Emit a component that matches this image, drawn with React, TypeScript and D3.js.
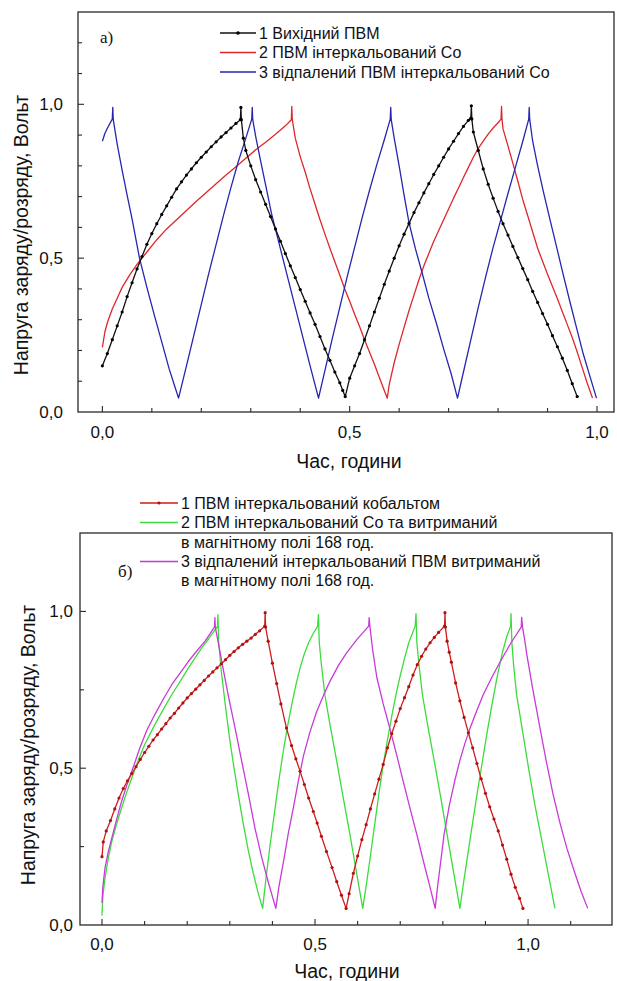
import React from "react";
import * as d3 from "d3";

type Pt = [number, number];

// ---------- Panel a) data (time, hours ; voltage, V) ----------
const topBlack: Pt[] = [
  [0, 0.15], [0.01, 0.19], [0.02, 0.235], [0.03, 0.28], [0.04, 0.325], [0.05, 0.375], [0.06, 0.42], [0.07, 0.465],
  [0.08, 0.505], [0.09, 0.545], [0.1, 0.58], [0.11, 0.612], [0.12, 0.642], [0.13, 0.67], [0.14, 0.698], [0.15, 0.725],
  [0.16, 0.748], [0.17, 0.77], [0.18, 0.79], [0.19, 0.81], [0.2, 0.828], [0.21, 0.845], [0.22, 0.862], [0.23, 0.878],
  [0.24, 0.894], [0.25, 0.908], [0.26, 0.923], [0.27, 0.938], [0.279, 0.95], [0.28, 0.99], [0.281, 0.95],
  [0.285, 0.89], [0.29, 0.85], [0.3, 0.8], [0.31, 0.755], [0.32, 0.715], [0.33, 0.675], [0.34, 0.635], [0.35, 0.595],
  [0.36, 0.555], [0.37, 0.515], [0.38, 0.475], [0.39, 0.437], [0.4, 0.398], [0.41, 0.36], [0.42, 0.322], [0.43, 0.285],
  [0.44, 0.245], [0.45, 0.205], [0.46, 0.168], [0.47, 0.13], [0.48, 0.095], [0.486, 0.07], [0.491, 0.05],
  [0.5, 0.11], [0.51, 0.15], [0.52, 0.19], [0.53, 0.235], [0.54, 0.28], [0.55, 0.325], [0.56, 0.37], [0.57, 0.415],
  [0.58, 0.458], [0.59, 0.5], [0.6, 0.54], [0.61, 0.578], [0.62, 0.613], [0.63, 0.648], [0.64, 0.68], [0.65, 0.712],
  [0.66, 0.742], [0.67, 0.772], [0.68, 0.8], [0.69, 0.828], [0.7, 0.855], [0.71, 0.88], [0.72, 0.905], [0.73, 0.928],
  [0.74, 0.948], [0.745, 0.955], [0.746, 0.995], [0.747, 0.952],
  [0.75, 0.91], [0.76, 0.85], [0.77, 0.79], [0.78, 0.74], [0.79, 0.695], [0.8, 0.652], [0.81, 0.612], [0.82, 0.575],
  [0.83, 0.538], [0.84, 0.502], [0.85, 0.466], [0.86, 0.43], [0.87, 0.392], [0.88, 0.356], [0.89, 0.32], [0.9, 0.285],
  [0.91, 0.248], [0.92, 0.212], [0.93, 0.175], [0.94, 0.135], [0.95, 0.092], [0.96, 0.05],
];

const topRed: Pt[] = [
  [0, 0.21], [0.005, 0.26], [0.01, 0.29], [0.02, 0.335], [0.03, 0.37], [0.04, 0.405], [0.055, 0.445], [0.07, 0.48],
  [0.09, 0.52], [0.11, 0.56], [0.13, 0.595], [0.15, 0.625], [0.17, 0.655], [0.19, 0.685], [0.21, 0.713], [0.23, 0.742],
  [0.25, 0.77], [0.27, 0.797], [0.29, 0.825], [0.31, 0.852], [0.33, 0.877], [0.35, 0.903], [0.37, 0.93], [0.382, 0.95],
  [0.383, 0.993], [0.384, 0.95],
  [0.39, 0.89], [0.4, 0.83], [0.41, 0.78], [0.42, 0.725], [0.43, 0.675], [0.44, 0.625], [0.45, 0.578], [0.46, 0.532],
  [0.47, 0.488], [0.48, 0.445], [0.49, 0.4], [0.5, 0.36], [0.51, 0.318], [0.52, 0.278], [0.53, 0.235], [0.54, 0.195],
  [0.55, 0.155], [0.56, 0.112], [0.57, 0.07], [0.576, 0.045],
  [0.58, 0.09], [0.59, 0.16], [0.6, 0.22], [0.61, 0.275], [0.62, 0.33], [0.63, 0.38], [0.64, 0.43], [0.65, 0.475],
  [0.66, 0.515], [0.67, 0.555], [0.68, 0.59], [0.69, 0.625], [0.7, 0.66], [0.71, 0.695], [0.72, 0.728], [0.73, 0.762],
  [0.74, 0.795], [0.75, 0.828], [0.76, 0.857], [0.77, 0.88], [0.78, 0.903], [0.79, 0.923], [0.8, 0.94], [0.806, 0.952],
  [0.807, 0.993], [0.808, 0.95],
  [0.81, 0.92], [0.82, 0.865], [0.83, 0.808], [0.84, 0.75], [0.85, 0.69], [0.86, 0.638], [0.87, 0.585], [0.88, 0.532],
  [0.89, 0.49], [0.9, 0.448], [0.91, 0.408], [0.92, 0.368], [0.93, 0.326], [0.94, 0.284], [0.95, 0.242], [0.96, 0.195],
  [0.97, 0.145], [0.98, 0.095], [0.991, 0.045],
];

const topBlue: Pt[] = [
  [0, 0.88], [0.005, 0.905], [0.01, 0.922], [0.015, 0.937], [0.02, 0.952], [0.021, 0.99], [0.022, 0.95],
  [0.03, 0.87], [0.04, 0.785], [0.05, 0.705], [0.06, 0.628], [0.075, 0.5], [0.09, 0.405], [0.105, 0.315], [0.12, 0.228],
  [0.135, 0.14], [0.145, 0.09], [0.154, 0.045],
  [0.17, 0.15], [0.185, 0.25], [0.2, 0.35], [0.215, 0.45], [0.23, 0.545], [0.245, 0.64], [0.26, 0.73], [0.275, 0.815],
  [0.29, 0.89], [0.302, 0.952], [0.303, 0.99], [0.304, 0.95],
  [0.31, 0.895], [0.32, 0.815], [0.33, 0.738], [0.342, 0.645], [0.36, 0.53], [0.375, 0.435], [0.39, 0.34], [0.405, 0.245],
  [0.42, 0.15], [0.437, 0.045],
  [0.45, 0.135], [0.465, 0.24], [0.48, 0.34], [0.495, 0.44], [0.51, 0.535], [0.525, 0.63], [0.54, 0.72], [0.555, 0.805],
  [0.57, 0.885], [0.582, 0.952], [0.583, 0.99], [0.584, 0.95],
  [0.59, 0.89], [0.6, 0.8], [0.61, 0.705], [0.62, 0.615], [0.633, 0.53], [0.646, 0.455], [0.66, 0.37], [0.675, 0.29],
  [0.69, 0.205], [0.705, 0.125], [0.718, 0.045],
  [0.73, 0.13], [0.745, 0.235], [0.76, 0.34], [0.775, 0.44], [0.79, 0.535], [0.805, 0.622], [0.82, 0.71], [0.835, 0.795],
  [0.85, 0.88], [0.862, 0.952], [0.863, 0.99], [0.864, 0.95],
  [0.87, 0.88], [0.88, 0.8], [0.891, 0.72], [0.905, 0.625], [0.92, 0.525], [0.932, 0.445], [0.945, 0.36], [0.96, 0.265],
  [0.972, 0.19], [0.985, 0.12], [0.999, 0.045],
];

// ---------- Panel б) data ----------
const botRed: Pt[] = [
  [0, 0.218], [0.003, 0.265], [0.01, 0.3], [0.02, 0.333], [0.03, 0.37], [0.04, 0.405], [0.05, 0.435], [0.06, 0.46],
  [0.07, 0.483], [0.08, 0.505], [0.09, 0.528], [0.1, 0.55], [0.11, 0.57], [0.12, 0.59], [0.13, 0.607], [0.14, 0.625],
  [0.15, 0.642], [0.16, 0.66], [0.17, 0.675], [0.18, 0.692], [0.19, 0.708], [0.2, 0.724], [0.21, 0.738], [0.22, 0.752],
  [0.23, 0.766], [0.24, 0.78], [0.25, 0.794], [0.26, 0.807], [0.27, 0.82], [0.28, 0.833], [0.29, 0.846], [0.3, 0.86],
  [0.31, 0.872], [0.32, 0.884], [0.33, 0.895], [0.34, 0.905], [0.35, 0.915], [0.36, 0.927], [0.37, 0.938], [0.382, 0.953],
  [0.383, 0.996], [0.384, 0.95],
  [0.39, 0.905], [0.4, 0.835], [0.41, 0.77], [0.42, 0.705], [0.433, 0.628], [0.445, 0.572], [0.455, 0.53], [0.465, 0.49],
  [0.475, 0.448], [0.485, 0.405], [0.496, 0.362], [0.505, 0.325], [0.515, 0.283], [0.527, 0.234], [0.54, 0.183],
  [0.551, 0.138], [0.562, 0.095], [0.573, 0.053],
  [0.58, 0.1], [0.59, 0.165], [0.6, 0.22], [0.61, 0.272], [0.62, 0.32], [0.63, 0.37], [0.64, 0.418], [0.65, 0.465],
  [0.66, 0.512], [0.67, 0.565], [0.68, 0.61], [0.69, 0.65], [0.7, 0.69], [0.71, 0.725], [0.72, 0.76], [0.73, 0.797],
  [0.74, 0.83], [0.75, 0.857], [0.76, 0.88], [0.77, 0.9], [0.78, 0.917], [0.79, 0.933], [0.804, 0.953], [0.805, 0.996],
  [0.806, 0.95],
  [0.81, 0.905], [0.815, 0.87], [0.82, 0.838], [0.83, 0.772], [0.84, 0.715], [0.85, 0.662], [0.86, 0.613], [0.87, 0.565],
  [0.88, 0.515], [0.89, 0.466], [0.9, 0.42], [0.91, 0.377], [0.92, 0.338], [0.93, 0.3], [0.94, 0.255], [0.95, 0.21],
  [0.96, 0.162], [0.97, 0.12], [0.98, 0.085], [0.988, 0.053],
];

const botGreen: Pt[] = [
  [0, 0.03], [0.002, 0.09], [0.007, 0.149], [0.015, 0.215], [0.023, 0.266], [0.035, 0.325], [0.046, 0.373], [0.058, 0.423],
  [0.07, 0.469], [0.085, 0.525], [0.1, 0.575], [0.124, 0.639], [0.145, 0.69], [0.164, 0.735], [0.185, 0.78], [0.203, 0.82],
  [0.22, 0.855], [0.234, 0.884], [0.25, 0.912], [0.264, 0.939], [0.271, 0.952], [0.272, 0.99],
  [0.274, 0.9], [0.28, 0.81], [0.29, 0.695], [0.3, 0.59], [0.31, 0.5], [0.32, 0.415], [0.33, 0.335], [0.343, 0.24],
  [0.355, 0.165], [0.366, 0.105], [0.377, 0.053],
  [0.385, 0.15], [0.395, 0.26], [0.405, 0.36], [0.415, 0.46], [0.425, 0.55], [0.435, 0.63], [0.445, 0.7], [0.455, 0.765],
  [0.465, 0.82], [0.475, 0.865], [0.485, 0.9], [0.495, 0.928], [0.506, 0.952], [0.508, 0.99],
  [0.51, 0.9], [0.515, 0.83], [0.523, 0.735], [0.535, 0.64], [0.551, 0.522], [0.565, 0.415], [0.582, 0.288], [0.597, 0.17],
  [0.612, 0.053],
  [0.62, 0.125], [0.63, 0.22], [0.64, 0.32], [0.65, 0.42], [0.66, 0.51], [0.67, 0.59], [0.68, 0.665], [0.69, 0.735],
  [0.7, 0.795], [0.71, 0.85], [0.72, 0.9], [0.735, 0.953], [0.737, 0.993],
  [0.739, 0.9], [0.744, 0.83], [0.752, 0.735], [0.764, 0.64], [0.78, 0.522], [0.794, 0.415], [0.81, 0.288], [0.825, 0.17],
  [0.84, 0.053],
  [0.848, 0.13], [0.856, 0.202], [0.868, 0.31], [0.88, 0.415], [0.892, 0.515], [0.903, 0.607], [0.915, 0.7], [0.927, 0.788],
  [0.94, 0.87], [0.95, 0.92], [0.959, 0.953], [0.96, 0.993],
  [0.962, 0.9], [0.966, 0.83], [0.973, 0.735], [0.985, 0.635], [1.0, 0.51], [1.015, 0.39], [1.03, 0.285], [1.045, 0.18],
  [1.063, 0.053],
];

const botMagenta: Pt[] = [
  [0, 0.07], [0.002, 0.12], [0.007, 0.181], [0.015, 0.235], [0.023, 0.277], [0.035, 0.34], [0.046, 0.394], [0.058, 0.445],
  [0.07, 0.49], [0.089, 0.565], [0.105, 0.62], [0.124, 0.671], [0.145, 0.723], [0.164, 0.767], [0.185, 0.806], [0.203, 0.841],
  [0.222, 0.873], [0.242, 0.905], [0.264, 0.95], [0.265, 0.98],
  [0.266, 0.95], [0.273, 0.9], [0.284, 0.82], [0.296, 0.735], [0.312, 0.63], [0.328, 0.522], [0.344, 0.415], [0.359, 0.309],
  [0.375, 0.215], [0.39, 0.138], [0.408, 0.053],
  [0.415, 0.12], [0.426, 0.202], [0.437, 0.29], [0.449, 0.373], [0.461, 0.46], [0.473, 0.54], [0.488, 0.615], [0.504, 0.681],
  [0.52, 0.733], [0.535, 0.777], [0.555, 0.828], [0.574, 0.868], [0.6, 0.913], [0.626, 0.953], [0.627, 0.98],
  [0.629, 0.95], [0.635, 0.88], [0.645, 0.79], [0.66, 0.705], [0.676, 0.625], [0.692, 0.54], [0.707, 0.458], [0.723, 0.372],
  [0.739, 0.288], [0.755, 0.2], [0.77, 0.12], [0.782, 0.053],
  [0.787, 0.115], [0.793, 0.181], [0.803, 0.29], [0.815, 0.38], [0.828, 0.46], [0.84, 0.525], [0.852, 0.58], [0.864, 0.628],
  [0.88, 0.685], [0.895, 0.735], [0.915, 0.79], [0.934, 0.838], [0.96, 0.9], [0.984, 0.95], [0.985, 0.981],
  [0.987, 0.95], [0.992, 0.91], [0.997, 0.863], [1.01, 0.76], [1.028, 0.628], [1.043, 0.52], [1.059, 0.415], [1.075, 0.325],
  [1.091, 0.245], [1.11, 0.165], [1.125, 0.105], [1.14, 0.053],
];

// ---------- ticks & texts ----------
const topXMinor = [0, 0.1, 0.2, 0.3, 0.4, 0.5, 0.6, 0.7, 0.8, 0.9, 1.0];
const topYMinor = [0.1, 0.2, 0.3, 0.4, 0.5, 0.6, 0.7, 0.8, 0.9, 1.0, 1.1, 1.2];
const botXMinor = [0, 0.1, 0.2, 0.3, 0.4, 0.5, 0.6, 0.7, 0.8, 0.9, 1.0, 1.1];
const botYMinor = [0.25, 0.5, 0.75, 1.0];
const xLabelTicks = [0, 0.5, 1.0];
const yLabelTicks = [0, 0.5, 1.0];

const yTitle = "Напруга заряду/розряду, Вольт";
const xTitle = "Час, години";
const topLegend = ["1 Вихідний ПВМ", "2 ПВМ інтеркальований Со", "3 відпалений ПВМ інтеркальований Со"];
const botLegend = [
  ["1 ПВМ інтеркальований кобальтом"],
  ["2 ПВМ інтеркальований Со та витриманий", "в магнітному полі 168 год."],
  ["3 відпалений інтеркальований ПВМ витриманий", "в магнітному полі 168 год."],
];

const FONT = "'Liberation Sans', Arial, sans-serif";
const SERIF = "'Liberation Serif', 'Times New Roman', serif";
const fmt = (v: number) => d3.format(".1f")(v).replace(".", ",");

interface SeriesDef { data: Pt[]; color: string; markerColor?: string; }

interface PanelProps {
  left: number; right: number; top: number; bottom: number;
  xDomain: [number, number]; yDomain: [number, number];
  xMinor: number[]; yMinor: number[];
  series: SeriesDef[];
  yTickLabelX: number; xTickLabelY: number;
  yTitleX: number; yTitleY: number; xTitleX: number; xTitleY: number;
}

function Panel(p: PanelProps) {
  const x = d3.scaleLinear().domain(p.xDomain).range([p.left, p.right]);
  const y = d3.scaleLinear().domain(p.yDomain).range([p.bottom, p.top]);
  const line = d3.line<Pt>().x((d) => x(d[0])).y((d) => y(d[1]));
  const axisColor = "#2a2a2a";
  return (
    <g>
      {p.series.map((s, i) => (
        <path key={i} d={line(s.data) || ""} fill="none" stroke={s.color} strokeWidth={1.3} strokeLinejoin="round" />
      ))}
      {p.series.map((s, i) =>
        s.markerColor ? (
          <g key={"m" + i}>
            {s.data.map((d, j) => (
              <circle key={j} cx={x(d[0])} cy={y(d[1])} r={1.6} fill={s.markerColor} />
            ))}
          </g>
        ) : null
      )}
      <rect x={p.left} y={p.top} width={p.right - p.left} height={p.bottom - p.top} fill="none" stroke={axisColor} strokeWidth={1.3} />
      {p.xMinor.map((v, i) => {
        const major = xLabelTicks.some((m) => Math.abs(m - v) < 1e-6);
        return <line key={"xt" + i} x1={x(v)} x2={x(v)} y1={p.bottom} y2={p.bottom - (major ? 6 : 4)} stroke={axisColor} strokeWidth={1.1} />;
      })}
      {p.yMinor.map((v, i) => {
        const major = yLabelTicks.some((m) => Math.abs(m - v) < 1e-6);
        return <line key={"yt" + i} x1={p.left} x2={p.left + (major ? 6 : 4)} y1={y(v)} y2={y(v)} stroke={axisColor} strokeWidth={1.1} />;
      })}
      {xLabelTicks.map((v, i) => (
        <text key={"xl" + i} x={x(v)} y={p.xTickLabelY} textAnchor="middle" fontSize={17} fontFamily={FONT} fill="#111">{fmt(v)}</text>
      ))}
      {yLabelTicks.map((v, i) => (
        <text key={"yl" + i} x={p.yTickLabelX} y={y(v)} dy="0.35em" textAnchor="end" fontSize={17} fontFamily={FONT} fill="#111">{fmt(v)}</text>
      ))}
      <text x={p.xTitleX} y={p.xTitleY} textAnchor="middle" fontSize={19.5} fontFamily={FONT} fill="#111">{xTitle}</text>
      <text transform={`translate(${p.yTitleX},${p.yTitleY}) rotate(-90)`} textAnchor="middle" dy="0.35em" fontSize={19.5} fontFamily={FONT} fill="#111">{yTitle}</text>
    </g>
  );
}

export default function App() {
  const topColors = ["#111111", "#e0262a", "#2626b0"];
  const botColors = ["#d01c1c", "#3ddc3d", "#c83ad8"];
  const topRows = [33, 52.5, 72];
  const botRows = [503, 522.5, 542, 561.5, 580.5];
  return (
    <svg width={617} height={981} style={{ position: "absolute", left: 0, top: 0, background: "#fff" }}>
      <rect x={0} y={0} width={617} height={981} fill="#fff" />
      <Panel
        left={78} right={614} top={12} bottom={412}
        xDomain={[-0.0493, 1.0344]} yDomain={[0, 1.3]}
        xMinor={topXMinor} yMinor={topYMinor}
        series={[
          { data: topRed, color: topColors[1] },
          { data: topBlue, color: topColors[2] },
          { data: topBlack, color: topColors[0], markerColor: "#000" },
        ]}
        yTickLabelX={63} xTickLabelY={438}
        yTitleX={21} yTitleY={235} xTitleX={349} xTitleY={468}
      />
      <Panel
        left={80} right={612} top={533} bottom={925}
        xDomain={[-0.0516, 1.197]} yDomain={[0, 1.25]}
        xMinor={botXMinor} yMinor={botYMinor}
        series={[
          { data: botGreen, color: botColors[1] },
          { data: botMagenta, color: botColors[2] },
          { data: botRed, color: botColors[0], markerColor: "#b01010" },
        ]}
        yTickLabelX={73} xTickLabelY={950}
        yTitleX={28} yTitleY={745} xTitleX={347} xTitleY={978}
      />
      {/* legend a) */}
      <text x={100} y={43} fontSize={17} fontFamily={SERIF} fill="#111">a)</text>
      {topLegend.map((t, i) => (
        <g key={"tl" + i}>
          <line x1={220} x2={256} y1={topRows[i]} y2={topRows[i]} stroke={topColors[i]} strokeWidth={1.4} />
          {i === 0 ? <circle cx={238} cy={topRows[i]} r={1.8} fill="#000" /> : null}
          <text x={259} y={topRows[i]} dy="0.35em" fontSize={16} fontFamily={FONT} fill="#111">{t}</text>
        </g>
      ))}
      {/* legend б) */}
      <text x={118} y={577} fontSize={17} fontFamily={SERIF} fill="#111">б)</text>
      {botLegend.map((rows, i) => {
        const rowIdx = i === 0 ? 0 : i === 1 ? 1 : 3;
        return (
          <g key={"bl" + i}>
            <line x1={140} x2={178} y1={botRows[rowIdx]} y2={botRows[rowIdx]} stroke={botColors[i]} strokeWidth={1.4} />
            {i === 0 ? <circle cx={159} cy={botRows[rowIdx]} r={1.6} fill="#b01010" /> : null}
            {rows.map((r, k) => (
              <text key={k} x={181} y={botRows[rowIdx + k]} dy="0.35em" fontSize={16} fontFamily={FONT} fill="#111">{r}</text>
            ))}
          </g>
        );
      })}
    </svg>
  );
}
